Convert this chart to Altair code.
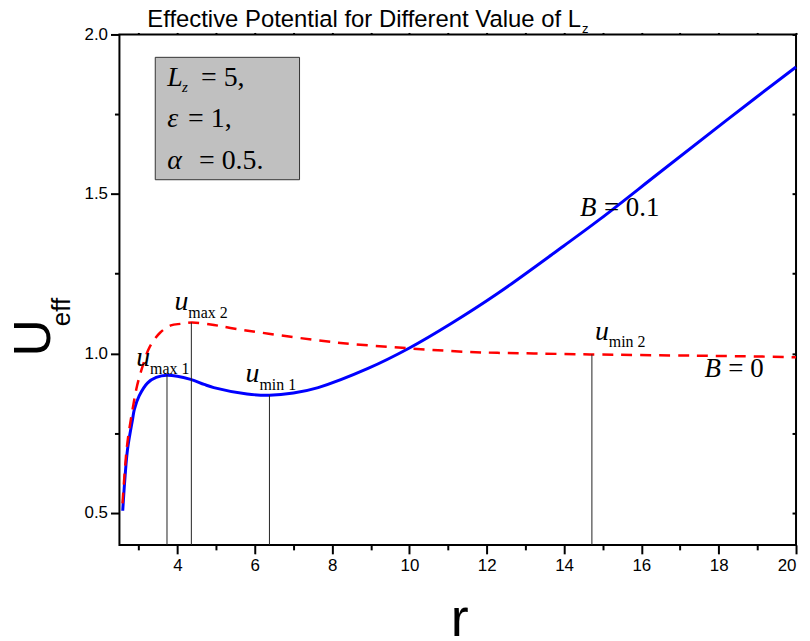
import altair as alt
import pandas as pd

# ---- data ----
# B = 0.1 (solid blue)
r_b01 = [2.585, 2.647, 2.71, 2.84, 2.886, 3.01, 3.23, 3.45, 3.73, 4.34, 4.69, 4.94, 5.80,
         6.38, 7.0, 7.64, 8.93, 10.0, 11.07, 12.27, 13.99, 14.93, 16.48, 18.19, 20.0]
u_b01 = [0.507, 0.617, 0.700, 0.794, 0.825, 0.867, 0.908, 0.925, 0.932, 0.919, 0.903, 0.893, 0.873,
         0.869, 0.876, 0.893, 0.953, 1.017, 1.093, 1.187, 1.337, 1.421, 1.568, 1.730, 1.898]
# B = 0 (dashed red)
r_b0 = [2.58, 2.67, 2.73, 2.84, 2.955, 3.10, 3.28, 3.55, 3.83, 4.09, 4.37, 4.86, 5.37,
        6.36, 8.07, 10.0, 11.5, 12.27, 13.22, 14.67, 17.42, 19.73, 20.0]
u_b0 = [0.53, 0.679, 0.742, 0.825, 0.898, 0.960, 1.02, 1.065, 1.088, 1.093, 1.097, 1.091, 1.080,
        1.062, 1.035, 1.016, 1.005, 1.002, 1.000, 0.997, 0.993, 0.989, 0.988]
# extremum markers
ext_r = [3.73, 4.36, 6.38, 14.72]
ext_u = [0.932, 1.097, 0.869, 0.997]
ext_main = ["u", "u", "u", "u"]
ext_sub = ["max 1", "max 2", "min 1", "min 2"]

x_ticks = list(range(3, 21))
y_ticks = [0.5, 0.75, 1.0, 1.25, 1.5, 1.75, 2.0]
x_domain = [2.5, 20]
y_domain = [0.4, 2.0]

SANS = "Liberation Sans"
SERIF = "Liberation Serif"
W, H = 680, 513

xs = alt.Scale(domain=x_domain, nice=False, zero=False)
ys = alt.Scale(domain=y_domain, nice=False, zero=False)

df_b01 = pd.DataFrame({"r": r_b01, "U": u_b01})
df_b0 = pd.DataFrame({"r": r_b0, "U": u_b0})
df_ext = pd.DataFrame({"r": ext_r, "U": ext_u, "m": ext_main, "s": ext_sub})

x_axis = alt.Axis(orient="bottom", values=x_ticks, format="d",
                  labelExpr="datum.value % 2 === 0 ? datum.label : ''",
                  tickSize={"condition": {"test": "datum.value % 2 === 0", "value": 9}, "value": 5},
                  labelPadding=4, title=None)
y_axis = alt.Axis(orient="left", values=y_ticks, format=".1f",
                  labelExpr="(datum.value * 2) % 1 === 0 ? datum.label : ''",
                  tickSize={"condition": {"test": "(datum.value * 2) % 1 === 0", "value": 9}, "value": 5},
                  labelPadding=3, title=None)

blue = alt.Chart(df_b01).mark_line(color="#0000ff", strokeWidth=3, interpolate="catmull-rom").encode(
    x=alt.X("r:Q", scale=xs, axis=x_axis),
    y=alt.Y("U:Q", scale=ys, axis=y_axis),
)

frame = alt.Chart(df_b01).mark_point(opacity=0).encode(
    x=alt.X("r:Q", scale=xs, axis=alt.Axis(orient="top", values=x_ticks, labels=False, tickSize=2,
                                          domain=False, title=None)),
    y=alt.Y("U:Q", scale=ys, axis=alt.Axis(orient="right", values=y_ticks, labels=False, tickSize=4,
                                          offset=-4, domain=False, title=None)),
)

red = alt.Chart(df_b0).mark_line(color="#ff0000", strokeWidth=2.5, strokeDash=[11, 8],
                                 interpolate="catmull-rom").encode(
    x=alt.X("r:Q", scale=xs, axis=None),
    y=alt.Y("U:Q", scale=ys, axis=None),
)

rules = alt.Chart(df_ext).mark_rule(color="#222222", strokeWidth=1).encode(
    x=alt.X("r:Q", scale=xs, axis=None),
    y=alt.Y("U:Q", scale=ys, axis=None),
    y2=alt.value(H),
)

# label offsets (pixels) relative to each extremum point
offs = [(-31, -9), (-17, -13), (-24, -13), (3, -15)]
ext_layers = []
for i, (dx, dy) in enumerate(offs):
    base = alt.Chart(df_ext.iloc[[i]]).encode(
        x=alt.X("r:Q", scale=xs, axis=None),
        y=alt.Y("U:Q", scale=ys, axis=None),
    )
    ext_layers.append(base.mark_text(font=SERIF, fontStyle="italic", fontSize=28, align="left",
                                     baseline="alphabetic", color="black", dx=dx, dy=dy).encode(text="m:N"))
    ext_layers.append(base.mark_text(font=SERIF, fontSize=16, align="left", baseline="alphabetic",
                                     color="black", dx=dx + 14, dy=dy + 8).encode(text="s:N"))


def txt(s, x, y, size, font=SERIF, style="normal", angle=0, align="left"):
    kw = dict(font=font, fontSize=size, fontStyle=style, align=align, baseline="alphabetic", color="black")
    if angle:
        kw["angle"] = angle
    return alt.Chart(pd.DataFrame({"t": [s]})).mark_text(**kw).encode(
        text="t:N", x=alt.value(x), y=alt.value(y))


box = alt.Chart(pd.DataFrame({"k": [0]})).mark_rect(fill="#c0c0c0", stroke="#333333", strokeWidth=1).encode(
    x=alt.value(36), x2=alt.value(181), y=alt.value(23), y2=alt.value(146))

texts = [
    # title
    txt("Effective Potential for Different Value of L", 28, -7, 24, font=SANS),
    txt("z", 465, -1, 13, font=SANS),
    # axis titles
    txt("r", 342, 605, 54, font=SANS, align="center"),
    txt("U", -70, 305, 52, font=SANS, angle=270, align="center"),
    txt("eff", -50, 279, 26, font=SANS, angle=270, align="center"),
    # parameter box
    txt("L", 48, 52, 28, style="italic"),
    txt("z", 63, 58, 15, style="italic"),
    txt("= 5,", 82, 52, 28),
    txt("\u03b5", 48, 93, 28, style="italic"),
    txt("= 1,", 69, 93, 28),
    txt("\u03b1", 48, 135, 28, style="italic"),
    txt("= 0.5.", 80, 135, 28),
    # curve labels
    txt("B", 463, 182, 27, style="italic"),
    txt("= 0.1", 487, 182, 27),
    txt("B", 588, 344, 27, style="italic"),
    txt("= 0", 612, 344, 27),
]

chart = alt.layer(blue, frame, red, rules, box, *ext_layers, *texts).resolve_axis(
    x="independent", y="independent"
).properties(
    width=W, height=H,
    autosize=alt.AutoSizeParams(type="none"),
    padding={"left": 112, "top": 25, "right": 6, "bottom": 93},
).configure_view(
    stroke="black", strokeWidth=2
).configure_axis(
    domain=False, grid=False, labelFont=SANS, labelFontSize=17, labelColor="black",
    tickColor="black", tickWidth=2,
)

chart.save("out.html", embed_options={"renderer": "svg", "actions": False})
